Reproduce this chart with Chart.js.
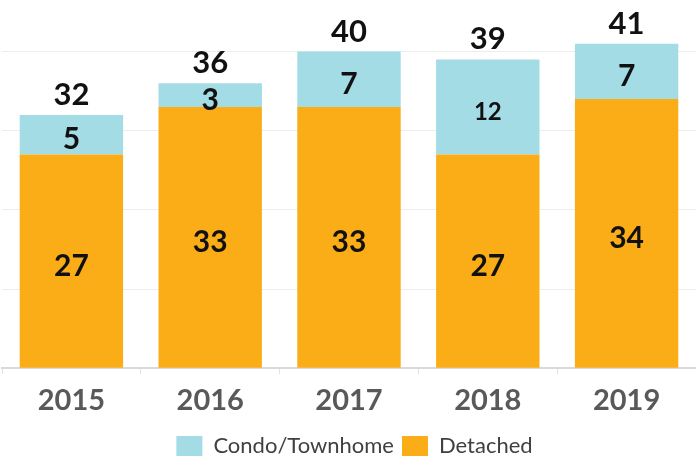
<!DOCTYPE html>
<html>
<head>
<meta charset="utf-8">
<script src="https://cdn.jsdelivr.net/npm/chart.js@4/dist/chart.umd.min.js"></script>
<style>
  html, body { margin: 0; padding: 0; background: #fff; }
  #wrap { width: 696px; height: 457px; position: relative; }
</style>
</head>
<body>
<div id="wrap"><canvas id="chart"></canvas></div>
<script>
  // chart values
  const years = ['2015', '2016', '2017', '2018', '2019'];
  const detached = [27, 33, 33, 27, 34];
  const condo = [5, 3, 7, 12, 7];
  const totals = [32, 36, 40, 39, 41];

  const ORANGE = '#FBAD18';
  const BLUE = '#A3DCE5';
  const LABEL_FONT = '"Lato", "DejaVu Sans", sans-serif';

  // numbers inside segments + totals on top
  const barLabels = {
    id: 'barLabels',
    afterDatasetsDraw(chart) {
      const ctx = chart.ctx;
      ctx.save();
      ctx.fillStyle = '#111';
      ctx.textAlign = 'center';
      ctx.textBaseline = 'middle';
      chart.data.datasets.forEach((ds, di) => {
        const meta = chart.getDatasetMeta(di);
        meta.data.forEach((bar, i) => {
          const mid = (bar.y + bar.base) / 2;
          // the small condo segment with two digits uses a smaller size
          const small = di === 1 && ds.data[i] >= 10;
          ctx.font = (small ? 'bold 24px ' : 'bold 30px ') + LABEL_FONT;
          ctx.fillText(String(ds.data[i]), bar.x, mid + 5);
        });
      });
      const top = chart.getDatasetMeta(chart.data.datasets.length - 1);
      ctx.font = 'bold 31px ' + LABEL_FONT;
      top.data.forEach((bar, i) => {
        ctx.fillText(String(totals[i]), bar.x, bar.y - 20);
      });
      ctx.restore();
    }
  };

  new Chart(document.getElementById('chart'), {
    type: 'bar',
    data: {
      labels: years,
      datasets: [
        { label: 'Detached', data: detached, backgroundColor: ORANGE },
        { label: 'Condo/Townhome', data: condo, backgroundColor: BLUE }
      ]
    },
    options: {
      responsive: true,
      maintainAspectRatio: false,
      animation: false,
      layout: { padding: { top: 12, left: 2, right: -11, bottom: -10 } },
      datasets: { bar: { barPercentage: 0.745, categoryPercentage: 1 } },
      scales: {
        x: {
          stacked: true,
          border: { color: '#D9D9D9', width: 2 },
          grid: { drawOnChartArea: false, drawTicks: true, tickLength: 6, color: '#E3E3E3' },
          ticks: { color: '#595959', padding: 9, font: { family: LABEL_FONT, size: 29, weight: 'bold' } }
        },
        y: {
          stacked: true,
          min: 0,
          max: 45,
          border: { display: false },
          ticks: { display: false, stepSize: 10 },
          grid: {
            drawTicks: false,
            color: c => (c.tick.value > 0 && c.tick.value % 10 === 0) ? '#EDEDED' : 'rgba(0,0,0,0)'
          }
        }
      },
      plugins: {
        legend: {
          position: 'bottom',
          reverse: true,
          labels: {
            boxWidth: 26,
            boxHeight: 20,
            padding: 8,
            color: '#404040',
            font: { family: LABEL_FONT, size: 22 }
          }
        },
        tooltip: { enabled: false }
      }
    },
    plugins: [barLabels]
  });
</script>
</body>
</html>
